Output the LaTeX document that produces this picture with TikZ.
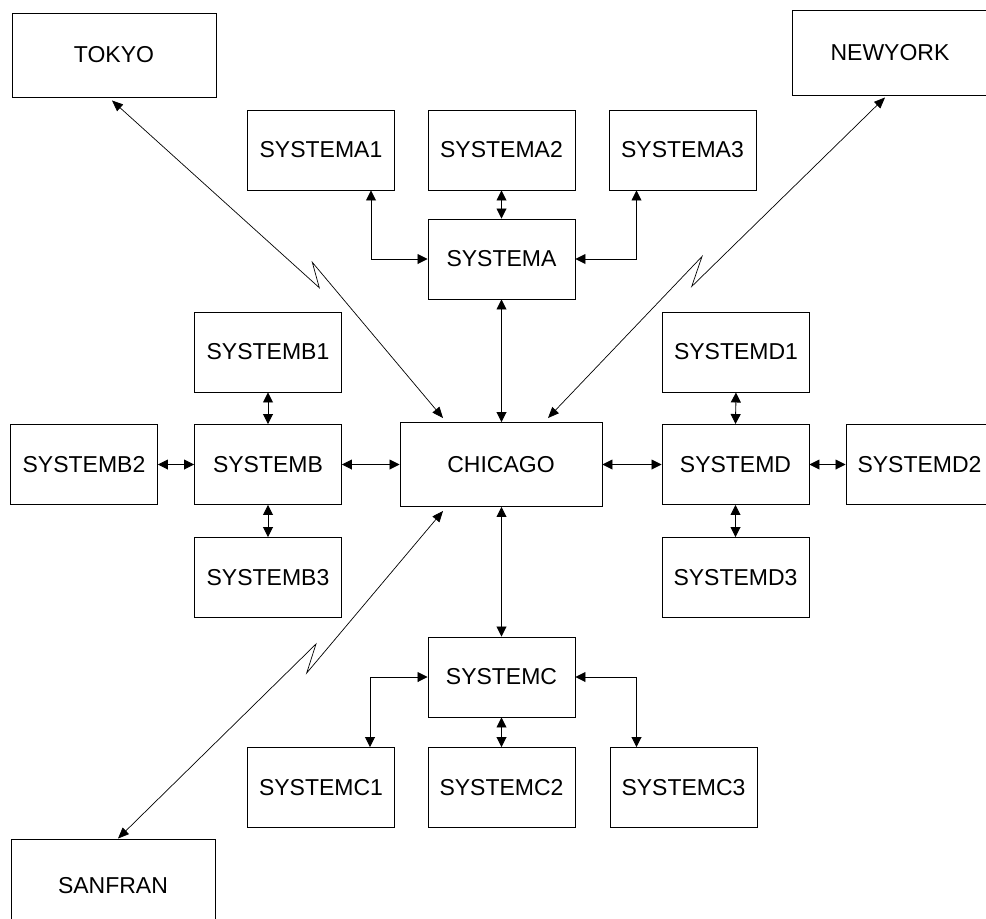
\documentclass[tikz,border=0pt]{standalone}
\usepackage{fontspec}
\setmainfont{Liberation Sans}
\usetikzlibrary{arrows.meta}
\begin{document}
\begin{tikzpicture}[x=1pt,y=-1pt,
  box/.style={draw, line width=0.95pt, inner sep=0pt, minimum width=147pt, minimum height=80pt,
    font=\fontsize{23}{27}\selectfont},
  bigbox/.style={box, minimum width=204pt, minimum height=84pt},
  link/.style={line width=0.9pt, {Triangle[length=10pt,width=10pt]}-{Triangle[length=10pt,width=10pt]}},
  wan/.style={line width=0.7pt, {Triangle[length=11pt,width=9pt]}-{Triangle[length=11pt,width=9pt]}}]
\useasboundingbox (0,0) rectangle (986,919);

% remote sites
\node[bigbox] (tokyo) at (114,55) {TOKYO};
\node[bigbox, minimum width=196pt, minimum height=85pt] (newyork) at (890,52.5) {NEWYORK};
\node[bigbox, minimum height=92pt] (sanfran) at (113,885) {};
\node[font=\fontsize{23}{27}\selectfont] (sanfranlabel) at (113,886) {SANFRAN};

% central site
\node[bigbox, minimum width=202pt] (chicago) at (501,464.5) {CHICAGO};

% system A group
\node[box] (a1) at (321,150) {SYSTEMA1};
\node[box] (a2) at (501.5,150) {SYSTEMA2};
\node[box] (a3) at (682.5,150) {SYSTEMA3};
\node[box] (a) at (501.5,259) {SYSTEMA};

% system B group
\node[box] (b1) at (268,352) {SYSTEMB1};
\node[box] (b) at (268,464.5) {SYSTEMB};
\node[box] (b3) at (268,577.5) {SYSTEMB3};
\node[box] (b2) at (84,464.5) {SYSTEMB2};

% system D group
\node[box] (d1) at (736,352) {SYSTEMD1};
\node[box] (d) at (735.5,464.5) {SYSTEMD};
\node[box] (d3) at (735.5,577.5) {SYSTEMD3};
\node[box] (d2) at (919.5,464.5) {SYSTEMD2};

% system C group
\node[box] (c) at (501.5,677) {SYSTEMC};
\node[box] (c1) at (321,787.5) {SYSTEMC1};
\node[box] (c2) at (501.5,787.5) {SYSTEMC2};
\node[box] (c3) at (683.5,787.5) {SYSTEMC3};

% local links
\draw[link] ([shift={(50,0)}]a1.south) |- (a.west);
\draw[link] ([shift={(-46,0)}]a3.south) |- (a.east);
\draw[link] (a2.south) -- (a.north);
\draw[link] (a.south) -- (chicago.north -| a.south);

\draw[link] (b1.south) -- (b.north);
\draw[link] (b.south) -- (b3.north);
\draw[link] (b2.east) -- (b.west);
\draw[link] (b.east) -- (chicago.west);

\draw[link] (d1.south) -- (d.north);
\draw[link] (d.south) -- (d3.north);
\draw[link] (d.east) -- (d2.west);
\draw[link] (chicago.east) -- (d.west);

\draw[link] (chicago.south -| c.north) -- (c.north);
\draw[link] ([shift={(49,0)}]c1.north) |- (c.west);
\draw[link] ([shift={(-47,0)}]c3.north) |- (c.east);
\draw[link] (c2.north) -- (c.south);

% long-distance links with lightning breaks
\coordinate (tk1) at (319.3,287.7);
\coordinate (tk2) at (312.3,262.3);
\draw[wan] ([shift={(-2,3)}]tokyo.south) -- (tk1) -- (tk2) -- ([shift={(-58,-4)}]chicago.north);

\coordinate (ny1) at (691.7,286.5);
\coordinate (ny2) at (702,256.5);
\draw[wan] ([shift={(-5,2)}]newyork.south) -- (ny1) -- (ny2) -- ([shift={(47,-4)}]chicago.north);

\coordinate (sf1) at (306.7,673);
\coordinate (sf2) at (316,644);
\draw[wan] ([shift={(-58,4)}]chicago.south) -- (sf1) -- (sf2) -- ([shift={(5,0)}]sanfran.north);
\end{tikzpicture}
\end{document}
